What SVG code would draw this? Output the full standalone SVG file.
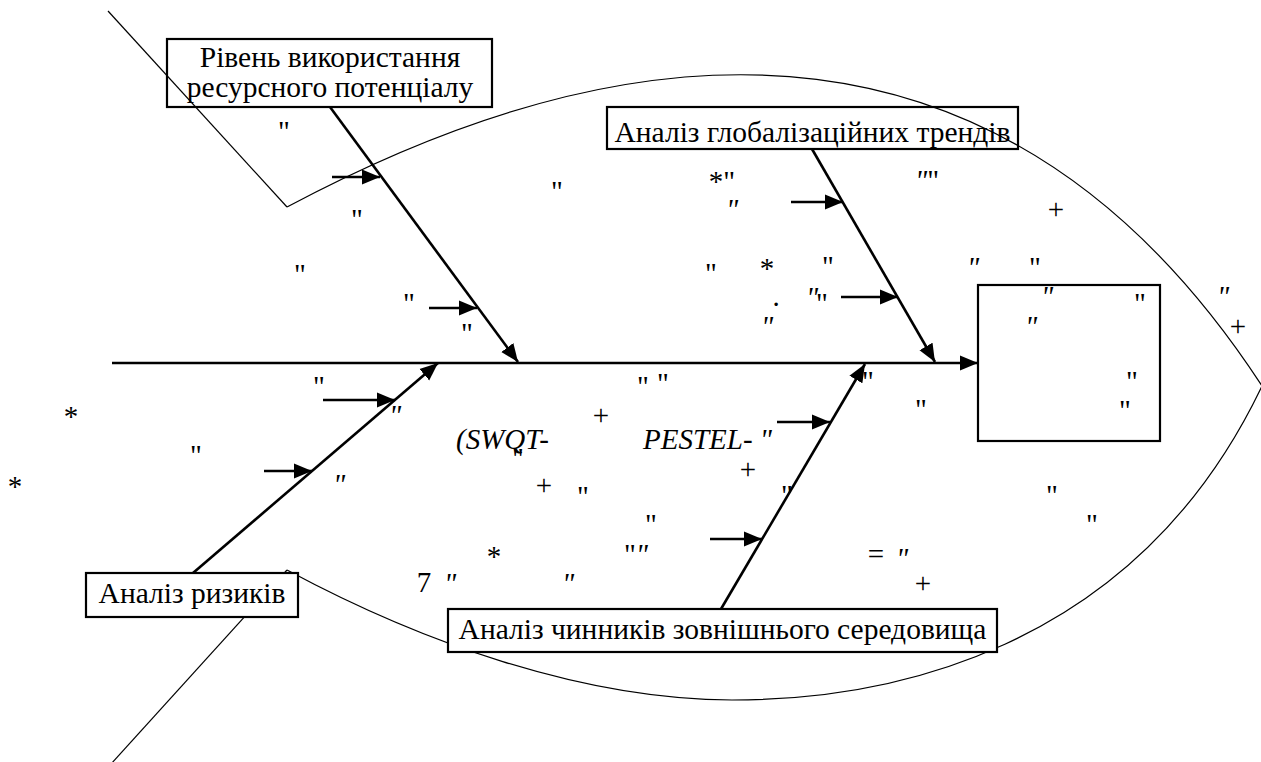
<svg xmlns="http://www.w3.org/2000/svg" width="1261" height="762" viewBox="0 0 1261 762">
<defs>
<marker id="ah" markerUnits="userSpaceOnUse" markerWidth="18" markerHeight="16" viewBox="0 0 18 16" refX="18" refY="8" orient="auto"><path d="M0,0.5 L18,8 L0,15.5 Z" fill="#000"/></marker>
</defs>
<style>
.o{fill:none;stroke:#000;stroke-width:1.2}
.b{fill:#fff;stroke:#000;stroke-width:2.2}
.c{fill:none;stroke:#000;stroke-width:2.6;marker-end:url(#ah)}
.t{font-family:"Liberation Serif","Times New Roman",serif;font-size:29.5px;fill:#000;text-anchor:middle}
.m{font-family:"Liberation Serif","Times New Roman",serif;font-size:29px;fill:#000;text-anchor:middle}
.s{text-anchor:start}
.i{font-style:italic}
</style>
<rect width="1261" height="762" fill="#fff"/>
<g id="outline-lower">
<line class="o" x1="287" y1="570" x2="111" y2="764"/>
<path class="o" d="M1262,386 C1133,656 882,700 732,700 C582,700 419,641 287,570"/>
</g>
<g id="node-resource">
<rect class="b" x="167" y="39" width="325" height="68"/>
<text class="t" x="330" y="67">Рівень використання</text>
<text class="t" x="330" y="97">ресурсного потенціалу</text>
</g>
<g id="node-global">
<rect class="b" x="607" y="107" width="411" height="42"/>
<text class="t" x="812.5" y="142">Аналіз глобалізаційних трендів</text>
</g>
<g id="node-result">
<rect class="b" x="978" y="285" width="182" height="156"/>
</g>
<g id="node-risks">
<rect class="b" x="86" y="573" width="212" height="44"/>
<text class="t" x="192" y="603">Аналіз ризиків</text>
</g>
<g id="node-environment">
<rect class="b" x="448" y="609" width="549" height="43"/>
<text class="t" x="722.5" y="639">Аналіз чинників зовнішнього середовища</text>
</g>
<g id="outline-upper">
<line class="o" x1="108" y1="11" x2="287" y2="207"/>
<path class="o" d="M287,207 C650,13 1011,1 1262,386"/>
</g>
<g id="connectors">
<line class="c" x1="112" y1="363" x2="978" y2="363"/>
<line class="c" x1="330" y1="107" x2="518" y2="362"/>
<line class="c" x1="812" y1="149" x2="935" y2="362"/>
<line class="c" x1="193" y1="573" x2="438" y2="363"/>
<line class="c" x1="721" y1="609" x2="865" y2="364"/>
<line class="c" x1="332" y1="177" x2="380" y2="177"/>
<line class="c" x1="429" y1="308" x2="477" y2="308"/>
<line class="c" x1="323" y1="400" x2="395" y2="400"/>
<line class="c" x1="264" y1="471" x2="312" y2="471"/>
<line class="c" x1="791" y1="202" x2="843" y2="202"/>
<line class="c" x1="841" y1="297" x2="898" y2="297"/>
<line class="c" x1="777" y1="422" x2="830" y2="422"/>
<line class="c" x1="710" y1="539" x2="762" y2="539"/>
</g>
<g id="marks">
<text class="m" x="284" y="141">"</text>
<text class="m" x="357" y="229">"</text>
<text class="m" x="300" y="284">"</text>
<text class="m" x="409" y="313">"</text>
<text class="m" x="467" y="343">"</text>
<text class="m" x="557" y="201">"</text>
<text class="m" x="722" y="191">*"</text>
<text class="m s" x="915" y="190"><tspan class="i">"</tspan>"</text>
<text class="m i" x="732" y="219">"</text>
<text class="m" x="1056" y="219">+</text>
<text class="m" x="711" y="283">"</text>
<text class="m" x="767" y="278">*</text>
<text class="m" x="828" y="276">"</text>
<text class="m i" x="973" y="277">"</text>
<text class="m" x="1035" y="277">"</text>
<text class="m" x="776" y="306">.</text>
<text class="m i" x="812" y="307">"</text>
<text class="m" x="822" y="313">"</text>
<text class="m i" x="767" y="336">"</text>
<text class="m i" x="1047" y="306">"</text>
<text class="m" x="1140" y="313">"</text>
<text class="m i" x="1031" y="336">"</text>
<text class="m" x="1132" y="391">"</text>
<text class="m" x="1125" y="420">"</text>
<text class="m i" x="1223" y="306">"</text>
<text class="m" x="1238" y="336">+</text>
<text class="m" x="1052" y="505">"</text>
<text class="m" x="1092" y="534">"</text>
<text class="m" x="868" y="391">"</text>
<text class="m" x="921" y="419">"</text>
<text class="m" x="643" y="396">"</text>
<text class="m" x="663" y="393">"</text>
<text class="m" x="601" y="425">+</text>
<text class="m s i" x="456" y="449">(SWQT-</text>
<text class="m" x="518" y="468" font-size="24">"</text>
<text class="m s i" x="643" y="449">PESTEL- "</text>
<text class="m" x="748" y="479">+</text>
<text class="m" x="544" y="495">+</text>
<text class="m" x="583" y="506">"</text>
<text class="m" x="787" y="505">"</text>
<text class="m" x="651" y="534">"</text>
<text class="m" x="494" y="566">*</text>
<text class="m s" x="624" y="564">"<tspan class="i">"</tspan></text>
<text class="m" x="424" y="592">7</text>
<text class="m i" x="450" y="593">"</text>
<text class="m i" x="568" y="593">"</text>
<text class="m" x="876" y="564">=</text>
<text class="m i" x="902" y="568">"</text>
<text class="m" x="923" y="593">+</text>
<text class="m" x="319" y="396">"</text>
<text class="m i" x="395" y="425">"</text>
<text class="m" x="71" y="426">*</text>
<text class="m" x="196" y="465">"</text>
<text class="m" x="15" y="496">*</text>
<text class="m i" x="339" y="494">"</text>
</g>
</svg>
